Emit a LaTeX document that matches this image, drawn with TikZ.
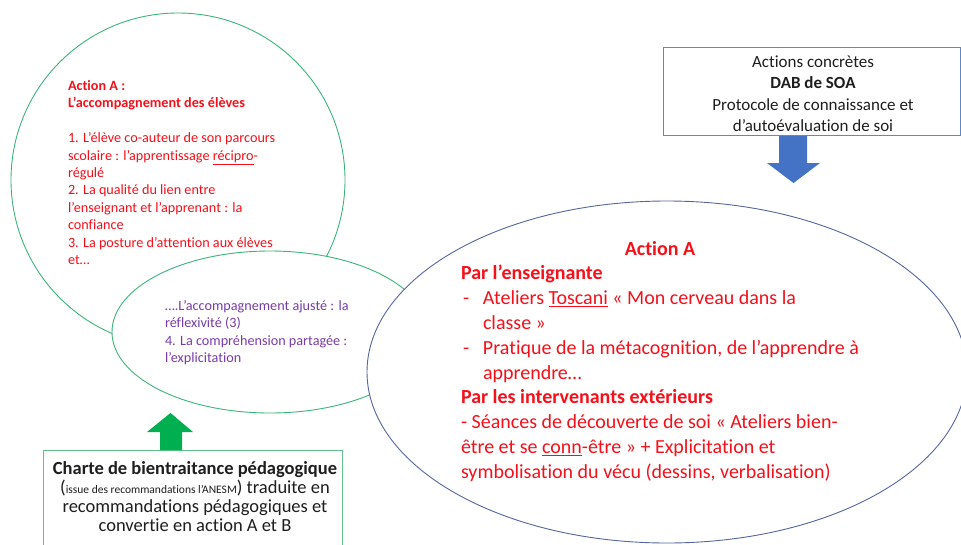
\documentclass[tikz,border=0pt]{standalone}
\usepackage{fontspec}
\setmainfont{Carlito}[Ligatures=NoCommon]
\usetikzlibrary{shapes.geometric}
\definecolor{redT}{HTML}{F5101A}
\definecolor{purT}{HTML}{7A3CA8}
\definecolor{grnLine}{HTML}{3DB57A}
\definecolor{bluLine}{HTML}{55679C}
\definecolor{boxBlue}{HTML}{5F86C6}
\definecolor{boxGreen}{HTML}{62C08A}
\definecolor{arrBlue}{HTML}{4472C4}
\definecolor{arrGreen}{HTML}{00B050}
\definecolor{txtDark}{HTML}{1E1E1E}
\tikzset{
  txt/.style={inner sep=0pt, outer sep=0pt},
  shp/.style={draw, fill=white, inner sep=0pt, line width=0.9pt},
}
\begin{document}
\begin{tikzpicture}[x=1pt,y=-1pt]
\useasboundingbox (0,0) rectangle (961,544);
\clip (0,0) rectangle (961,544);
\fill[white] (0,0) rectangle (961,544);

% green circle
\node[shp, circle, draw=grnLine, minimum size=334pt] (circ) at (178,180) {};
% small green ellipse
\node[shp, ellipse, draw=grnLine, minimum width=316pt, minimum height=162pt] (small) at (270,332) {};
% big blue ellipse
\node[shp, ellipse, draw=bluLine, minimum width=600pt, minimum height=342pt] (big) at (667,372) {};

% top box
\node[shp, rectangle, draw=boxBlue, minimum width=297pt, minimum height=88pt] (topbox) at (811.5,91) {};
% green box
\node[shp, rectangle, draw=boxGreen, minimum width=299pt, minimum height=120pt] (grnbox) at (192.5,510) {};

% blue arrow (down)
\fill[arrBlue] (779,136) -- (807,136) -- (807,163) -- (820,163) -- (793.5,183) -- (767,163) -- (779,163) -- cycle;
% green arrow (up)
\fill[arrGreen] (160,450) -- (182,450) -- (182,432) -- (193,432) -- (170.5,413) -- (147,432) -- (160,432) -- cycle;

% left circle text
\node[txt, anchor=base west, text=redT] (ctext) at (68,90.5) {\parbox[t]{290pt}{\fontsize{14.2}{17.4}\selectfont\raggedright
\textbf{Action A :}\\
\textbf{L’accompagnement des élèves}\\
\mbox{}\\
1. L’élève co-auteur de son parcours\\
scolaire : l’apprentissage \underline{récipro}-\\
régulé\\
2. La qualité du lien entre\\
l’enseignant et l’apprenant : la\\
confiance\\
3. La posture d’attention aux élèves\\
et…}};

% small ellipse text
\node[txt, anchor=base west, text=purT] (stext) at (165,310.7) {\parbox[t]{230pt}{\fontsize{14.2}{17.2}\selectfont\raggedright
….L’accompagnement ajusté : la\\
réflexivité (3)\\
4. La compréhension partagée :\\
l’explicitation}};

% big ellipse text
\node[txt, anchor=base, text=redT, font=\bfseries\fontsize{20}{24.8}\selectfont] (atitle) at (660,255) {Action A};
\node[txt, anchor=base west, text=redT] (abody) at (461,279.8) {\parbox[t]{480pt}{\fontsize{20}{24.8}\selectfont\raggedright
\textbf{Par l’enseignante}\\
\hspace*{2pt}\makebox[20pt][l]{-}Ateliers \underline{Toscani} « Mon cerveau dans la\\
\hspace*{22pt}classe »\\
\hspace*{2pt}\makebox[20pt][l]{-}Pratique de la métacognition, de l’apprendre à\\
\hspace*{22pt}apprendre…\\
\textbf{Par les intervenants extérieurs}\\
- Séances de découverte de soi « Ateliers bien-\\
être et se \underline{conn}-être » + Explicitation et\\
symbolisation du vécu (dessins, verbalisation)}};

% top box text
\node[txt, anchor=base, text=txtDark] (ttext) at (813,67) {\parbox[t]{290pt}{\fontsize{17}{21.5}\selectfont\centering
Actions concrètes\\
\textbf{DAB de SOA}\\
Protocole de connaissance et\\
d’autoévaluation de soi}};

% green box text
\node[txt, anchor=base, text=txtDark] (gtext) at (195,474.3) {\parbox[t]{320pt}{\fontsize{18.5}{19.2}\selectfont\centering
\textbf{Charte de bientraitance pédagogique}\\
({\fontsize{11.5}{12}\selectfont issue des recommandations l’ANESM}) traduite en\\
recommandations pédagogiques et\\
convertie en action A et B}};
\end{tikzpicture}
\end{document}
